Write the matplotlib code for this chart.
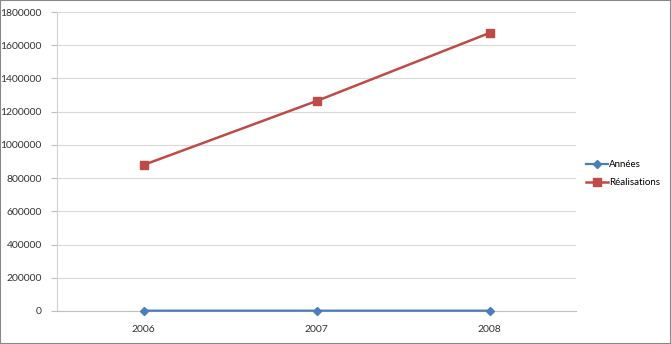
import matplotlib

matplotlib.use("Agg")

import matplotlib.pyplot as plt
from matplotlib.patches import Rectangle

years = ["2006", "2007", "2008"]
annees = [2006, 2007, 2008]
realisations = [879000, 1264000, 1674000]
y_ticks = list(range(0, 1800001, 200000))

plt.rcParams["font.family"] = ["Lato", "DejaVu Sans"]

fig = plt.figure(figsize=(6.71, 3.44), dpi=100)
ax = fig.add_axes([57 / 671, 1 - 311 / 344, (576 - 57) / 671, (311 - 12) / 344])

x = range(len(years))
ax.plot(x, annees, color="#4A7EBB", linewidth=1.6, marker="D", markersize=4.5,
        label="Années", clip_on=False, zorder=3)
ax.plot(x, realisations, color="#BE4B48", linewidth=1.8, marker="s", markersize=6,
        label="Réalisations", clip_on=False, zorder=3)

ax.set_xlim(-0.5, 2.5)
ax.set_ylim(0, 1800000)
ax.set_xticks(list(x))
ax.set_xticklabels(years)
ax.set_yticks(y_ticks)
ax.set_yticklabels([str(v) for v in y_ticks])
ax.tick_params(axis="both", labelsize=7.5, colors="#333333", length=0, pad=10)
ax.tick_params(axis="y", length=4, color="#bfbfbf", pad=7)
ax.grid(axis="y", color="#d9d9d9", linewidth=0.8)
ax.set_axisbelow(True)
for side in ("top", "right"):
    ax.spines[side].set_visible(False)
ax.spines["left"].set_color("#d0d0d0")
ax.spines["bottom"].set_color("#c0c0c0")

fig.legend(loc="upper left", bbox_to_anchor=(586 / 671, 1 - 160 / 344), frameon=False,
           fontsize=7, handlelength=2.3, handletextpad=0.1, labelspacing=0.95,
           borderpad=0, borderaxespad=0)

fig.patches.append(Rectangle((0, 0), 1, 1, transform=fig.transFigure, fill=False,
                             edgecolor="#888888", linewidth=1.5))

fig.savefig("out.png", dpi=100)
